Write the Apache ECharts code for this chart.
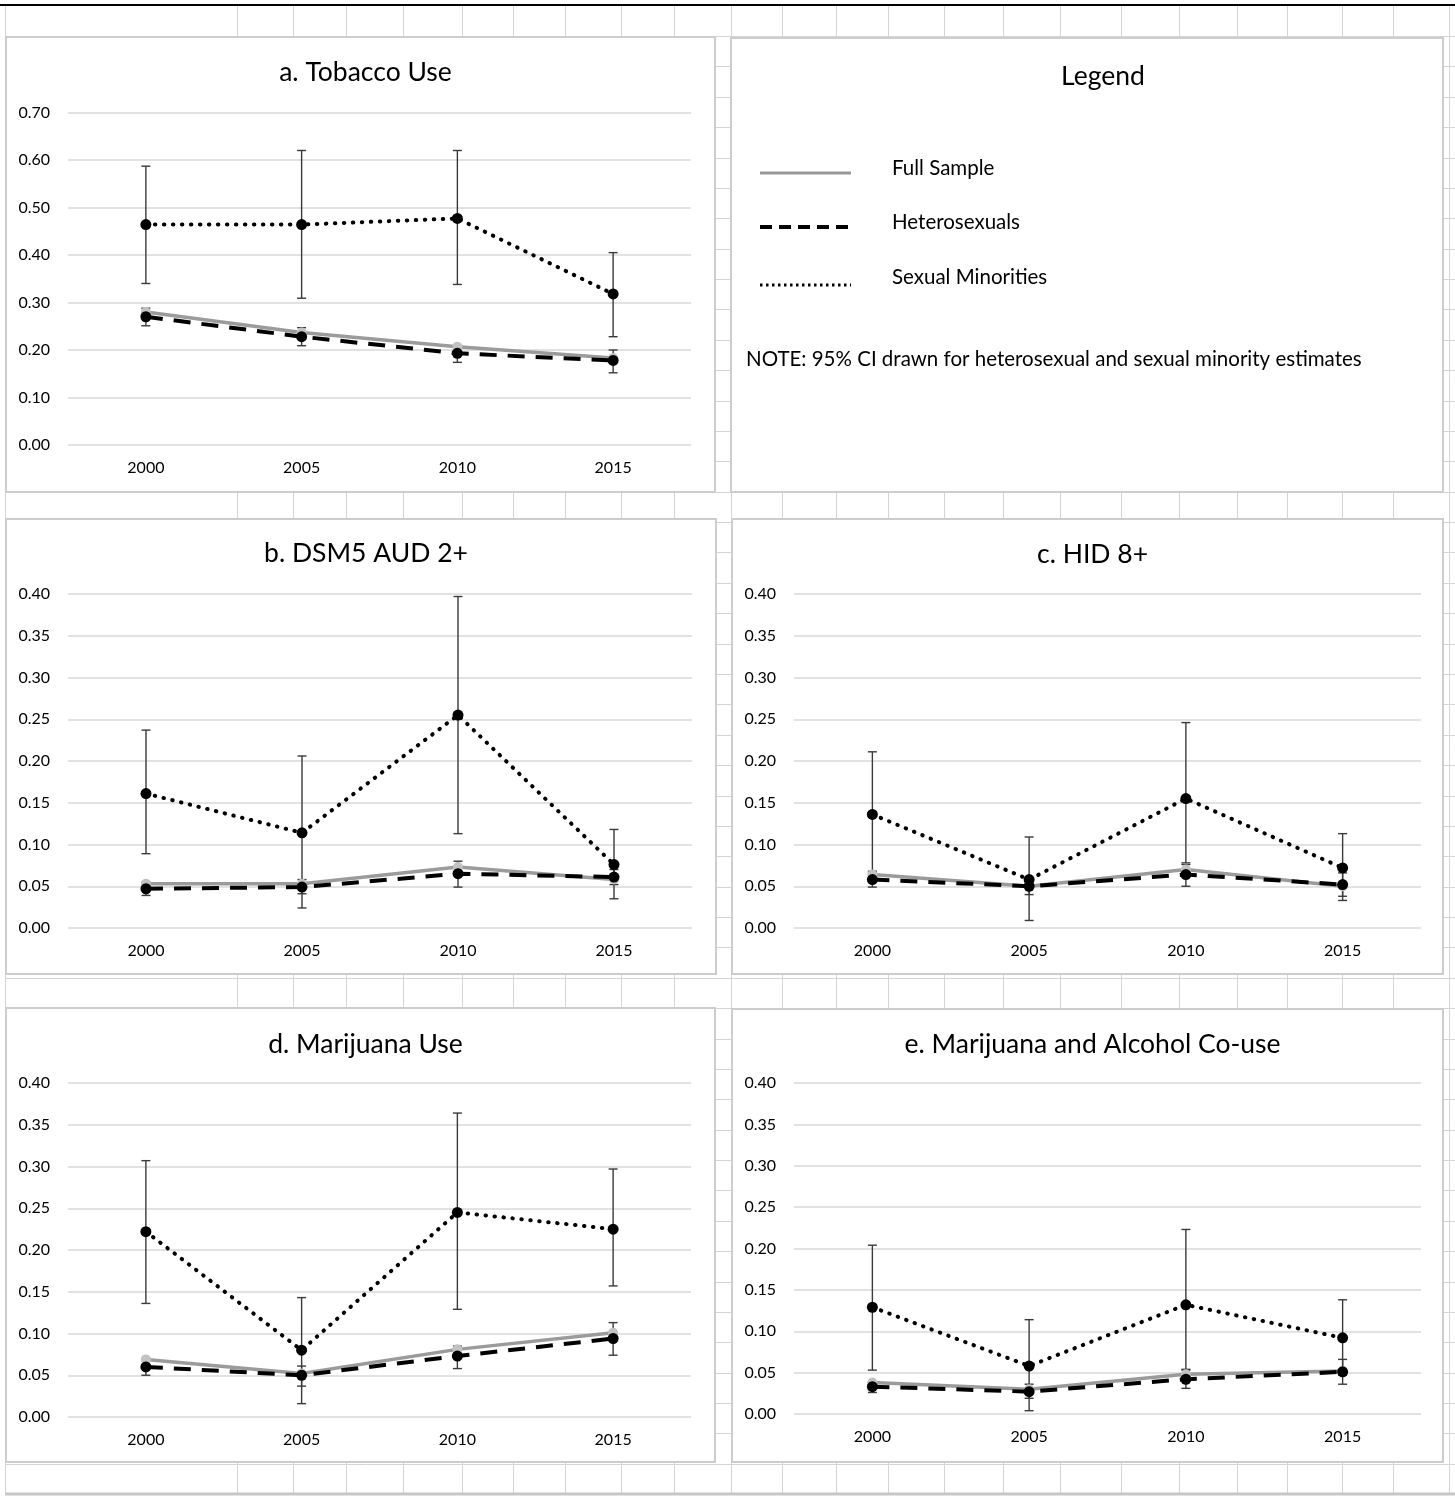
<!DOCTYPE html>
<html>
<head>
<meta charset="utf-8">
<script src="https://cdn.jsdelivr.net/npm/echarts@6/dist/echarts.min.js"></script>
<style>
html,body{margin:0;padding:0;background:#ffffff;}
#chart{width:1455px;height:1500px;}
</style>
</head>
<body>
<div id="chart"></div>
<script>
// ---------------- DATA ----------------
const years = ['2000', '2005', '2010', '2015'];

const panelTitles = ['a. Tobacco Use', 'b. DSM5 AUD 2+', 'c. HID 8+', 'd. Marijuana Use', 'e. Marijuana and Alcohol Co-use'];
const legendTitle = 'Legend';
const legendNames = ['Full Sample', 'Heterosexuals', 'Sexual Minorities'];
const noteText = 'NOTE: 95% CI drawn for heterosexual and sexual minority estimates';

// y-axis ticks
const yMaxA = 0.70, yStepA = 0.10;
const yMaxRest = 0.40, yStepRest = 0.05;

// a. Tobacco Use
const fullA  = [0.280, 0.237, 0.207, 0.183];
const hetA   = [0.270, 0.228, 0.193, 0.178];
const hetALo = [0.251, 0.209, 0.174, 0.152];
const hetAHi = [0.288, 0.247, 0.208, 0.200];
const smA    = [0.464, 0.464, 0.477, 0.318];
const smALo  = [0.340, 0.309, 0.338, 0.228];
const smAHi  = [0.587, 0.620, 0.620, 0.405];

// b. DSM5 AUD 2+
const fullB  = [0.053, 0.053, 0.073, 0.058];
const hetB   = [0.047, 0.049, 0.065, 0.061];
const hetBLo = [0.039, 0.041, 0.049, 0.052];
const hetBHi = [0.055, 0.058, 0.080, 0.070];
const smB    = [0.161, 0.114, 0.255, 0.076];
const smBLo  = [0.089, 0.024, 0.113, 0.035];
const smBHi  = [0.237, 0.206, 0.397, 0.118];

// c. HID 8+
const fullC  = [0.064, 0.050, 0.070, 0.050];
const hetC   = [0.058, 0.050, 0.064, 0.052];
const hetCLo = [0.049, 0.040, 0.050, 0.038];
const hetCHi = [0.066, 0.058, 0.076, 0.066];
const smC    = [0.136, 0.058, 0.155, 0.072];
const smCLo  = [0.068, 0.009, 0.078, 0.033];
const smCHi  = [0.211, 0.109, 0.246, 0.113];

// d. Marijuana Use
const fullD  = [0.069, 0.052, 0.081, 0.101];
const hetD   = [0.060, 0.050, 0.073, 0.094];
const hetDLo = [0.050, 0.037, 0.058, 0.074];
const hetDHi = [0.069, 0.061, 0.085, 0.113];
const smD    = [0.222, 0.080, 0.245, 0.225];
const smDLo  = [0.136, 0.016, 0.129, 0.157];
const smDHi  = [0.307, 0.143, 0.364, 0.297];

// e. Marijuana and Alcohol Co-use
const fullE  = [0.038, 0.030, 0.048, 0.052];
const hetE   = [0.033, 0.027, 0.042, 0.051];
const hetELo = [0.026, 0.019, 0.031, 0.036];
const hetEHi = [0.039, 0.036, 0.053, 0.066];
const smE    = [0.129, 0.058, 0.132, 0.092];
const smELo  = [0.053, 0.004, 0.054, 0.047];
const smEHi  = [0.204, 0.114, 0.223, 0.138];

// ---------------- LAYOUT / STYLE ----------------
const FONT = 'Lato, "Open Sans", sans-serif';
const panels = [
  { box: [6, 37, 709, 455],   grid: [68, 112.5, 623, 332.5], titleY: 67,   yMax: yMaxA,    yStep: yStepA,
    full: fullA, het: hetA, hetLo: hetALo, hetHi: hetAHi, sm: smA, smLo: smALo, smHi: smAHi },
  { box: [6, 519, 710, 455],  grid: [68, 594, 624, 334],    titleY: 548,  yMax: yMaxRest, yStep: yStepRest,
    full: fullB, het: hetB, hetLo: hetBLo, hetHi: hetBHi, sm: smB, smLo: smBLo, smHi: smBHi },
  { box: [732, 519, 711, 455],grid: [794, 594, 627, 334],   titleY: 549,  yMax: yMaxRest, yStep: yStepRest,
    full: fullC, het: hetC, hetLo: hetCLo, hetHi: hetCHi, sm: smC, smLo: smCLo, smHi: smCHi },
  { box: [6, 1008, 709, 454], grid: [68, 1083, 623, 334],   titleY: 1039, yMax: yMaxRest, yStep: yStepRest,
    full: fullD, het: hetD, hetLo: hetDLo, hetHi: hetDHi, sm: smD, smLo: smDLo, smHi: smDHi },
  { box: [732, 1009, 711, 453],grid: [794, 1083, 627, 331], titleY: 1039, yMax: yMaxRest, yStep: yStepRest,
    full: fullE, het: hetE, hetLo: hetELo, hetHi: hetEHi, sm: smE, smLo: smELo, smHi: smEHi }
];
const legendBox = [731, 38, 712, 454];

// ---------------- BACKGROUND (spreadsheet cells) ----------------
const graphics = [];
const colX = [5, 237, 293, 346, 403, 462, 513, 565, 621, 674, 731, 782, 836, 888, 944, 1003, 1060, 1121, 1179, 1237, 1287, 1342, 1393, 1449];
colX.forEach(x => graphics.push({ type: 'line', z: -20, silent: true,
  shape: { x1: x + 0.5, y1: 5, x2: x + 0.5, y2: 1494 }, style: { stroke: '#d4d4d4', lineWidth: 1 } }));
for (let k = 0; k <= 47; k++) {
  const y = Math.round(36 + k * 30.38) + 0.5;
  graphics.push({ type: 'line', z: -20, silent: true,
    shape: { x1: 5, y1: y, x2: 1455, y2: y }, style: { stroke: '#d4d4d4', lineWidth: 1 } });
}
graphics.push({ type: 'line', z: -19, silent: true, shape: { x1: 5, y1: 1494, x2: 1455, y2: 1494 }, style: { stroke: '#c6c6c6', lineWidth: 3 } });
graphics.push({ type: 'line', z: -19, silent: true, shape: { x1: 0, y1: 5, x2: 1455, y2: 5 }, style: { stroke: '#000', lineWidth: 2 } });

// panel boxes
panels.map(p => p.box).concat([legendBox]).forEach(b => graphics.push({
  type: 'rect', z: -10, silent: true,
  shape: { x: b[0], y: b[1], width: b[2], height: b[3] },
  style: { fill: '#ffffff', stroke: '#cdcdcd', lineWidth: 2 }
}));

// legend panel content
const lgX1 = 760, lgX2 = 851, lgTextX = 892;
const lgRows = [173, 227, 285];
const lgStyles = [
  { stroke: '#999999', lineWidth: 3 },
  { stroke: '#000000', lineWidth: 4, lineDash: [12, 7] },
  { stroke: '#000000', lineWidth: 3, lineDash: [2.5, 3.5] }
];
const lgTextY = [168, 222, 277];
legendNames.forEach((n, i) => {
  graphics.push({ type: 'line', z: 5, silent: true,
    shape: { x1: lgX1, y1: lgRows[i], x2: lgX2, y2: lgRows[i] }, style: lgStyles[i] });
  graphics.push({ type: 'text', z: 5, silent: true, x: lgTextX, y: lgTextY[i],
    style: { text: n, fill: '#000', font: '20.5px ' + FONT, textAlign: 'left', textVerticalAlign: 'middle' } });
});
graphics.push({ type: 'text', z: 5, silent: true, x: 746, y: 359,
  style: { text: noteText, fill: '#000', font: '20.5px ' + FONT, textAlign: 'left', textVerticalAlign: 'middle' } });

// ---------------- CHART ----------------
function errRender(params, api) {
  const x = api.value(0);
  const lo = api.coord([x, api.value(1)]);
  const hi = api.coord([x, api.value(2)]);
  const c = 4.5;
  const st = { stroke: '#3a3a3a', lineWidth: 1.4 };
  return { type: 'group', children: [
    { type: 'line', shape: { x1: lo[0], y1: lo[1], x2: hi[0], y2: hi[1] }, style: st },
    { type: 'line', shape: { x1: lo[0] - c, y1: lo[1], x2: lo[0] + c, y2: lo[1] }, style: st },
    { type: 'line', shape: { x1: hi[0] - c, y1: hi[1], x2: hi[0] + c, y2: hi[1] }, style: st }
  ] };
}

const grids = [], xAxes = [], yAxes = [], series = [], titles = [];
panels.forEach((p, i) => {
  grids.push({ left: p.grid[0], top: p.grid[1], width: p.grid[2], height: p.grid[3], containLabel: false });
  xAxes.push({ type: 'category', gridIndex: i, data: years, boundaryGap: true,
    axisLine: { show: false }, axisTick: { show: false },
    axisLabel: { color: '#000', fontFamily: FONT, fontSize: 16, margin: 15 } });
  yAxes.push({ type: 'value', gridIndex: i, min: 0, max: p.yMax, interval: p.yStep,
    axisLine: { show: false }, axisTick: { show: false },
    splitLine: { lineStyle: { color: '#d9d9d9', width: 1.5 } },
    axisLabel: { color: '#000', fontFamily: FONT, fontSize: 16, margin: 18, formatter: v => v.toFixed(2) } });
  const cx = p.box[0] + p.box[2] / 2;
  titles.push({ text: panelTitles[i], left: cx, top: p.titleY, textAlign: 'center', textVerticalAlign: 'middle',
    textStyle: { fontFamily: FONT, fontSize: 26.5, fontWeight: 'normal', color: '#000' } });

  series.push({ type: 'custom', xAxisIndex: i, yAxisIndex: i, z: 1, silent: true,
    renderItem: errRender, encode: { x: 0, y: [1, 2] },
    data: years.map((y, k) => [k, p.hetLo[k], p.hetHi[k]]) });
  series.push({ type: 'custom', xAxisIndex: i, yAxisIndex: i, z: 1, silent: true,
    renderItem: errRender, encode: { x: 0, y: [1, 2] },
    data: years.map((y, k) => [k, p.smLo[k], p.smHi[k]]) });
  series.push({ name: legendNames[0], type: 'line', xAxisIndex: i, yAxisIndex: i, z: 2, data: p.full,
    symbol: 'circle', symbolSize: 10, itemStyle: { color: '#c2c2c2' },
    lineStyle: { color: '#9b9b9b', width: 3.5 } });
  series.push({ name: legendNames[1], type: 'line', xAxisIndex: i, yAxisIndex: i, z: 3, data: p.het,
    symbol: 'circle', symbolSize: 11, itemStyle: { color: '#000' },
    lineStyle: { color: '#000', width: 4, type: [17, 11] } });
  series.push({ name: legendNames[2], type: 'line', xAxisIndex: i, yAxisIndex: i, z: 4, data: p.sm,
    symbol: 'circle', symbolSize: 11, itemStyle: { color: '#000' },
    lineStyle: { color: '#000', width: 4, type: [0.5, 8.5], cap: 'round' } });
});
titles.push({ text: legendTitle, left: 1098, top: 71, textAlign: 'center', textVerticalAlign: 'middle',
  textStyle: { fontFamily: FONT, fontSize: 26.5, fontWeight: 'normal', color: '#000' } });

const chart = echarts.init(document.getElementById('chart'), null, { renderer: 'canvas' });
chart.setOption({
  backgroundColor: '#ffffff',
  animation: false,
  title: titles,
  grid: grids,
  xAxis: xAxes,
  yAxis: yAxes,
  series: series,
  graphic: { elements: graphics }
});
</script>
</body>
</html>
